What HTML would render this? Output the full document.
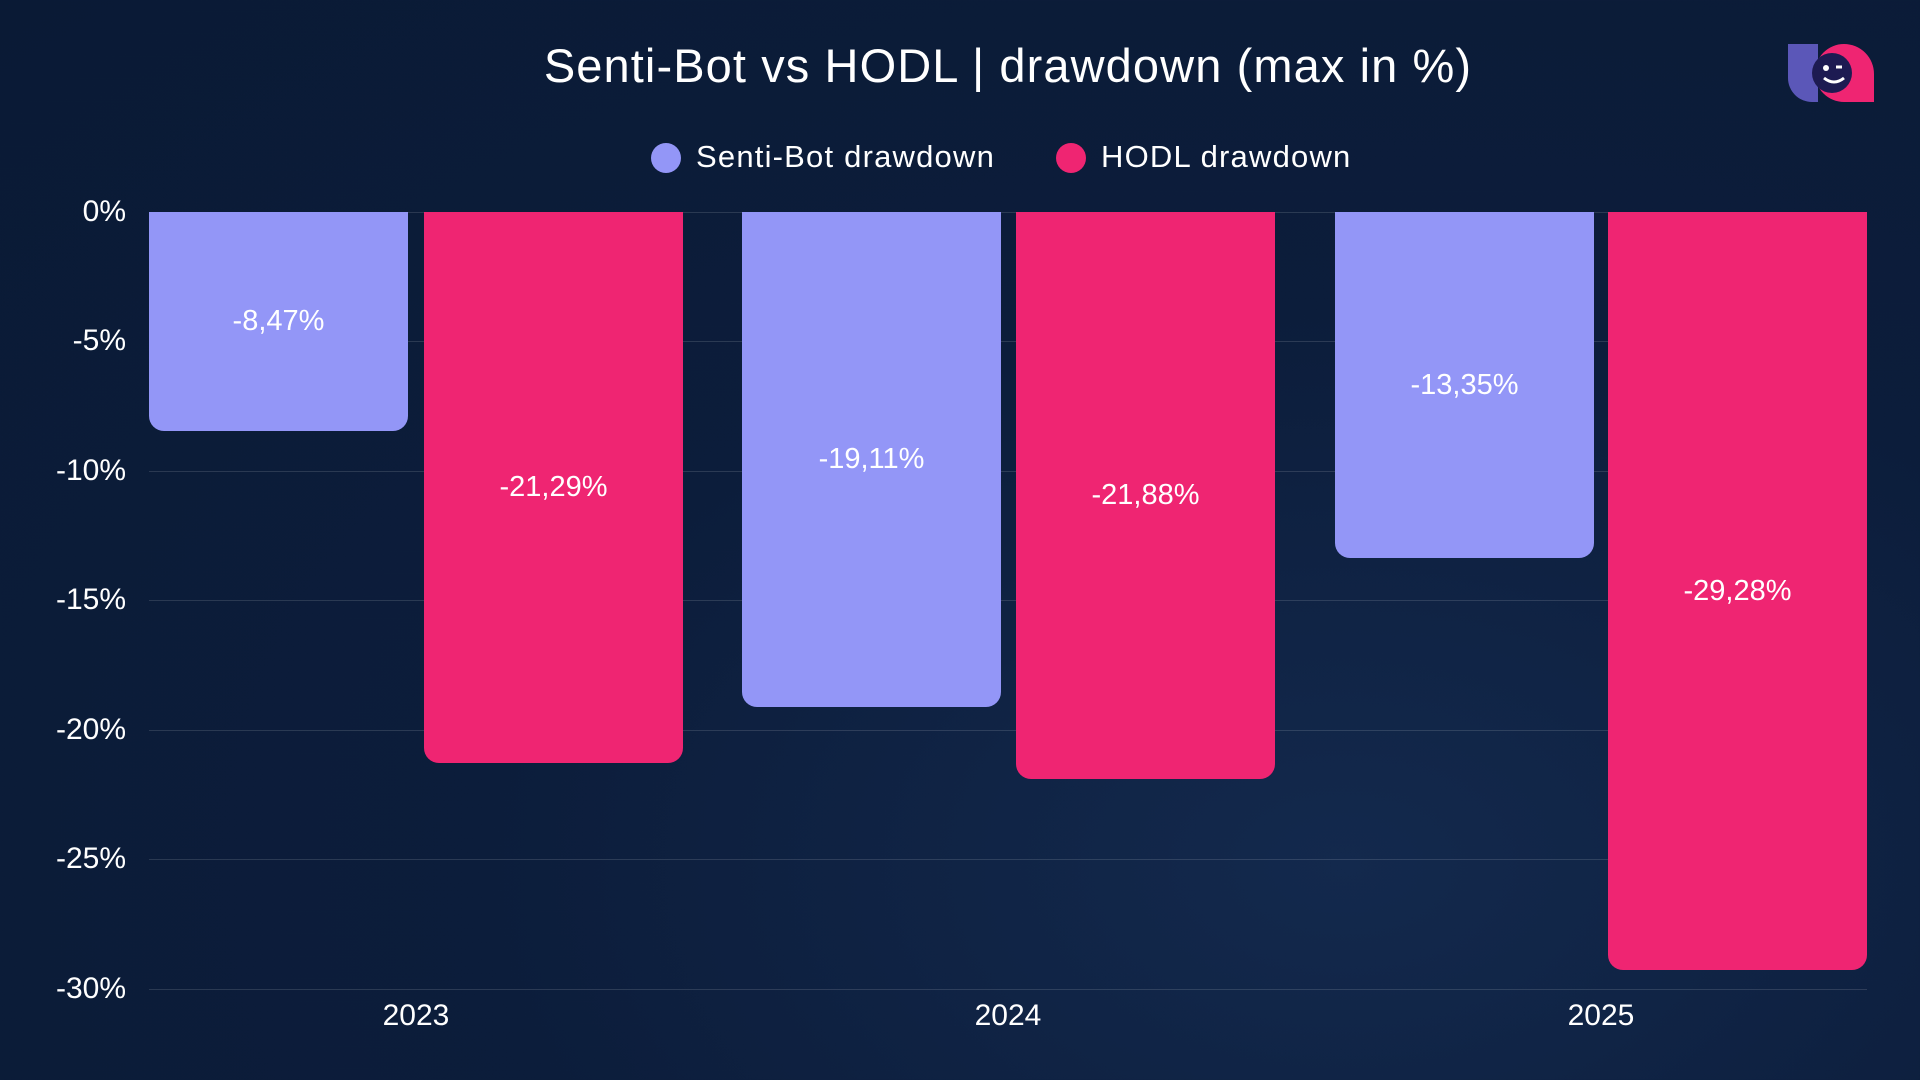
<!DOCTYPE html>
<html><head><meta charset="utf-8"><style>
html,body{margin:0;padding:0}
body{width:1920px;height:1080px;overflow:hidden;background:radial-gradient(ellipse at 70% 80%,#13294d 0%,#0c1d3b 45%,#0a1a35 100%);font-family:"Liberation Sans",sans-serif;color:#fff;position:relative}
.t{position:absolute;white-space:nowrap}
.bar{position:absolute;top:212px;width:259px;border-radius:0 0 15px 15px;display:flex;align-items:center;justify-content:center;font-size:29px;color:#fff}
.s{background:#9396f7}.h{background:#ef2572}
.g{position:absolute;left:149px;width:1718px;height:1px;background:rgba(255,255,255,0.13)}
.yl{position:absolute;right:1794px;font-size:30px;transform:translateY(-50%)}
.xl{position:absolute;font-size:30px;transform:translate(-50%,-50%);top:1016px}
</style></head><body>
<div class="t" style="left:0;width:2016px;text-align:center;top:38px;font-size:47px;letter-spacing:1.1px">Senti-Bot vs HODL | drawdown (max in %)</div>
<div style="position:absolute;left:651px;top:143px;width:30px;height:30px;border-radius:50%;background:#9396f7"></div>
<div class="t" style="left:696px;top:139px;font-size:31px;letter-spacing:1.2px">Senti-Bot drawdown</div>
<div style="position:absolute;left:1056px;top:143px;width:30px;height:30px;border-radius:50%;background:#ef2572"></div>
<div class="t" style="left:1101px;top:139px;font-size:31px;letter-spacing:1.2px">HODL drawdown</div>
<svg style="position:absolute;left:1786px;top:42px" width="90" height="62" viewBox="0 0 90 62">
<path d="M2 2h30v58h-6a24 24 0 0 1-24-24z" fill="#5b57b8"/>
<path d="M58 2a30 30 0 0 1 30 30v28H58a29 29 0 0 1 0-58z" fill="#ef2572"/>
<circle cx="46" cy="31" r="20" fill="#1d1b52"/>
<circle cx="40" cy="26" r="3" fill="#fff"/>
<path d="M50 25l6 0" stroke="#fff" stroke-width="3"/>
<path d="M38 36q10 8 20 0" stroke="#fff" stroke-width="3" fill="none"/>
</svg>
<div class="g" style="top:212px"></div><div class="g" style="top:341px"></div><div class="g" style="top:471px"></div><div class="g" style="top:600px"></div><div class="g" style="top:730px"></div><div class="g" style="top:859px"></div><div class="g" style="top:989px"></div>
<div class="yl" style="top:212px">0%</div><div class="yl" style="top:341px">-5%</div><div class="yl" style="top:471px">-10%</div><div class="yl" style="top:600px">-15%</div><div class="yl" style="top:730px">-20%</div><div class="yl" style="top:859px">-25%</div><div class="yl" style="top:989px">-30%</div>
<div class="bar s" style="left:149px;height:219px">-8,47%</div>
<div class="bar h" style="left:424px;height:551px">-21,29%</div>
<div class="bar s" style="left:742px;height:495px">-19,11%</div>
<div class="bar h" style="left:1016px;height:567px">-21,88%</div>
<div class="bar s" style="left:1335px;height:346px">-13,35%</div>
<div class="bar h" style="left:1608px;height:758px">-29,28%</div>
<div class="xl" style="left:416px">2023</div><div class="xl" style="left:1008px">2024</div><div class="xl" style="left:1601px">2025</div>
</body></html>
